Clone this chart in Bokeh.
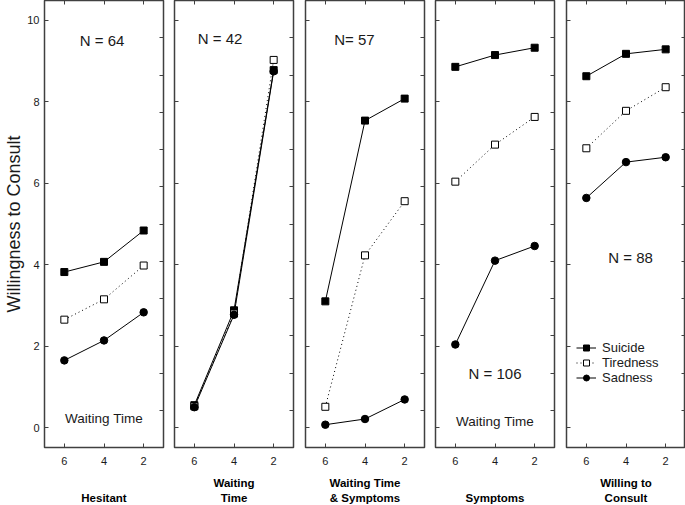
from bokeh.plotting import figure
from bokeh.layouts import row
from bokeh.models import Range1d, LinearAxis, FixedTicker, Label, Legend, LegendItem
from bokeh.embed import file_html
from bokeh.resources import INLINE

# ---- data ----
delays = [6, 4, 2]
groups = ["Hesitant", "Waiting\nTime", "Waiting Time\n& Symptoms", "Symptoms", "Willing to\nConsult"]
n_labels = ["N = 64", "N = 42", "N= 57", "N = 106", "N = 88"]
suicide = [
    [3.82, 4.07, 4.84],
    [0.55, 2.88, 8.78],
    [3.10, 7.54, 8.08],
    [8.86, 9.15, 9.33],
    [8.63, 9.18, 9.29],
]
tiredness = [
    [2.65, 3.15, 3.98],
    [0.52, 2.80, 9.03],
    [0.51, 4.23, 5.56],
    [6.04, 6.95, 7.63],
    [6.86, 7.78, 8.36],
]
sadness = [
    [1.65, 2.14, 2.83],
    [0.50, 2.77, 8.75],
    [0.07, 0.21, 0.69],
    [2.04, 4.10, 4.46],
    [5.64, 6.52, 6.64],
]
y_ticks = [0, 2, 4, 6, 8, 10]
series_names = ["Suicide", "Tiredness", "Sadness"]
y_title = "Willingness to Consult"

# ---- layout / style ----
FONT = "Liberation Sans"
TXT = "#1a1a1a"
FRAME = "#404040"
n_pos = [(4.1, 9.51), (4.7, 9.55), (4.53, 9.52), (4.0, 1.33), (3.77, 4.18)]
wt_pos = {0: (4.0, 0.22), 3: (4.0, 0.15)}
Y0, Y1 = -0.49, 10.49
right_ticks = [Y1 - k * (Y1 - Y0) / 12.0 for k in range(1, 12)]
border_left = [44, 6, 6, 6, 6]
border_right = [5, 6, 5, 6, 0]


def tick_only_axis(positions):
    axis = LinearAxis(ticker=FixedTicker(ticks=[], minor_ticks=positions))
    axis.major_tick_line_color = None
    axis.minor_tick_in = 4
    axis.minor_tick_out = 0
    axis.minor_tick_line_color = FRAME
    axis.axis_line_color = None
    axis.major_label_standoff = 0
    return axis


figs = []
for i in range(5):
    first = i == 0
    last = i == 4
    p = figure(frame_width=119, frame_height=447,
               x_range=Range1d(7, 1), y_range=Range1d(Y0, Y1),
               output_backend="svg", toolbar_location=None, tools="",
               x_axis_location=None, y_axis_location=None,
               min_border_left=border_left[i], min_border_right=border_right[i],
               min_border_top=0, min_border_bottom=56)
    p.grid.visible = False
    p.outline_line_color = FRAME
    p.outline_line_width = 1.5
    p.background_fill_color = "white"
    p.border_fill_color = "white"

    # bottom axis
    xb = LinearAxis(ticker=FixedTicker(ticks=delays))
    xb.major_tick_in = 4
    xb.major_tick_out = 0
    xb.minor_tick_line_color = None
    xb.axis_line_color = None
    xb.major_tick_line_color = FRAME
    xb.major_label_text_font = FONT
    xb.major_label_text_font_size = "11px"
    xb.major_label_text_color = TXT
    xb.major_label_standoff = 9
    xb.axis_label = groups[i]
    xb.axis_label_text_font = FONT
    xb.axis_label_text_font_size = "11.5px"
    xb.axis_label_text_font_style = "bold"
    xb.axis_label_text_color = "black"
    xb.axis_label_text_line_height = 1.3
    xb.axis_label_standoff = 9 if "\n" in groups[i] else 24
    p.add_layout(xb, "below")

    # top axis (mirror ticks only)
    p.add_layout(tick_only_axis(delays), "above")

    # left axis
    if first:
        yl = LinearAxis(ticker=FixedTicker(ticks=y_ticks))
        yl.major_tick_in = 4
        yl.major_tick_out = 0
        yl.minor_tick_line_color = None
        yl.axis_line_color = None
        yl.major_tick_line_color = FRAME
        yl.major_label_text_font = FONT
        yl.major_label_text_font_size = "11px"
        yl.major_label_text_color = TXT
        yl.major_label_standoff = 5
        yl.axis_label = y_title
        yl.axis_label_text_font = FONT
        yl.axis_label_text_font_size = "18px"
        yl.axis_label_text_font_style = "normal"
        yl.axis_label_text_color = TXT
        yl.axis_label_standoff = 0
    else:
        yl = tick_only_axis(y_ticks)
    p.add_layout(yl, "left")

    # right axis (ticks only)
    p.add_layout(tick_only_axis(right_ticks), "right")

    # series
    l1 = p.line(delays, suicide[i], line_color="black", line_width=1)
    l2 = p.line(delays, tiredness[i], line_color="black", line_width=1, line_dash="1 3")
    l3 = p.line(delays, sadness[i], line_color="black", line_width=1)
    m1 = p.scatter(delays, suicide[i], marker="square", size=7, fill_color="black", line_color="black")
    m2 = p.scatter(delays, tiredness[i], marker="square", size=7, fill_color="white", line_color="black", line_width=1)
    m3 = p.scatter(delays, sadness[i], marker="circle", size=7.5, fill_color="black", line_color="black")

    nx, ny = n_pos[i]
    p.add_layout(Label(x=nx, y=ny, text=n_labels[i], text_font=FONT, text_font_size="15px",
                       text_color=TXT, text_align="center", text_baseline="middle"))
    if i in wt_pos:
        wx, wy = wt_pos[i]
        p.add_layout(Label(x=wx, y=wy, text="Waiting Time", text_font=FONT, text_font_size="13.5px",
                           text_color=TXT, text_align="center", text_baseline="middle"))

    if last:
        items = [LegendItem(label=series_names[0], renderers=[l1, m1]),
                 LegendItem(label=series_names[1], renderers=[l2, m2]),
                 LegendItem(label=series_names[2], renderers=[l3, m3])]
        leg = Legend(items=items, location=(10, 62), border_line_color=None,
                     background_fill_alpha=0, padding=0, margin=0, spacing=0,
                     glyph_width=20, glyph_height=15, label_height=15, label_standoff=6,
                     label_text_font=FONT, label_text_font_size="13px", label_text_color=TXT)
        p.add_layout(leg)
    figs.append(p)

layout = row(*figs)
open("out.html", "w").write(file_html(layout, INLINE))
